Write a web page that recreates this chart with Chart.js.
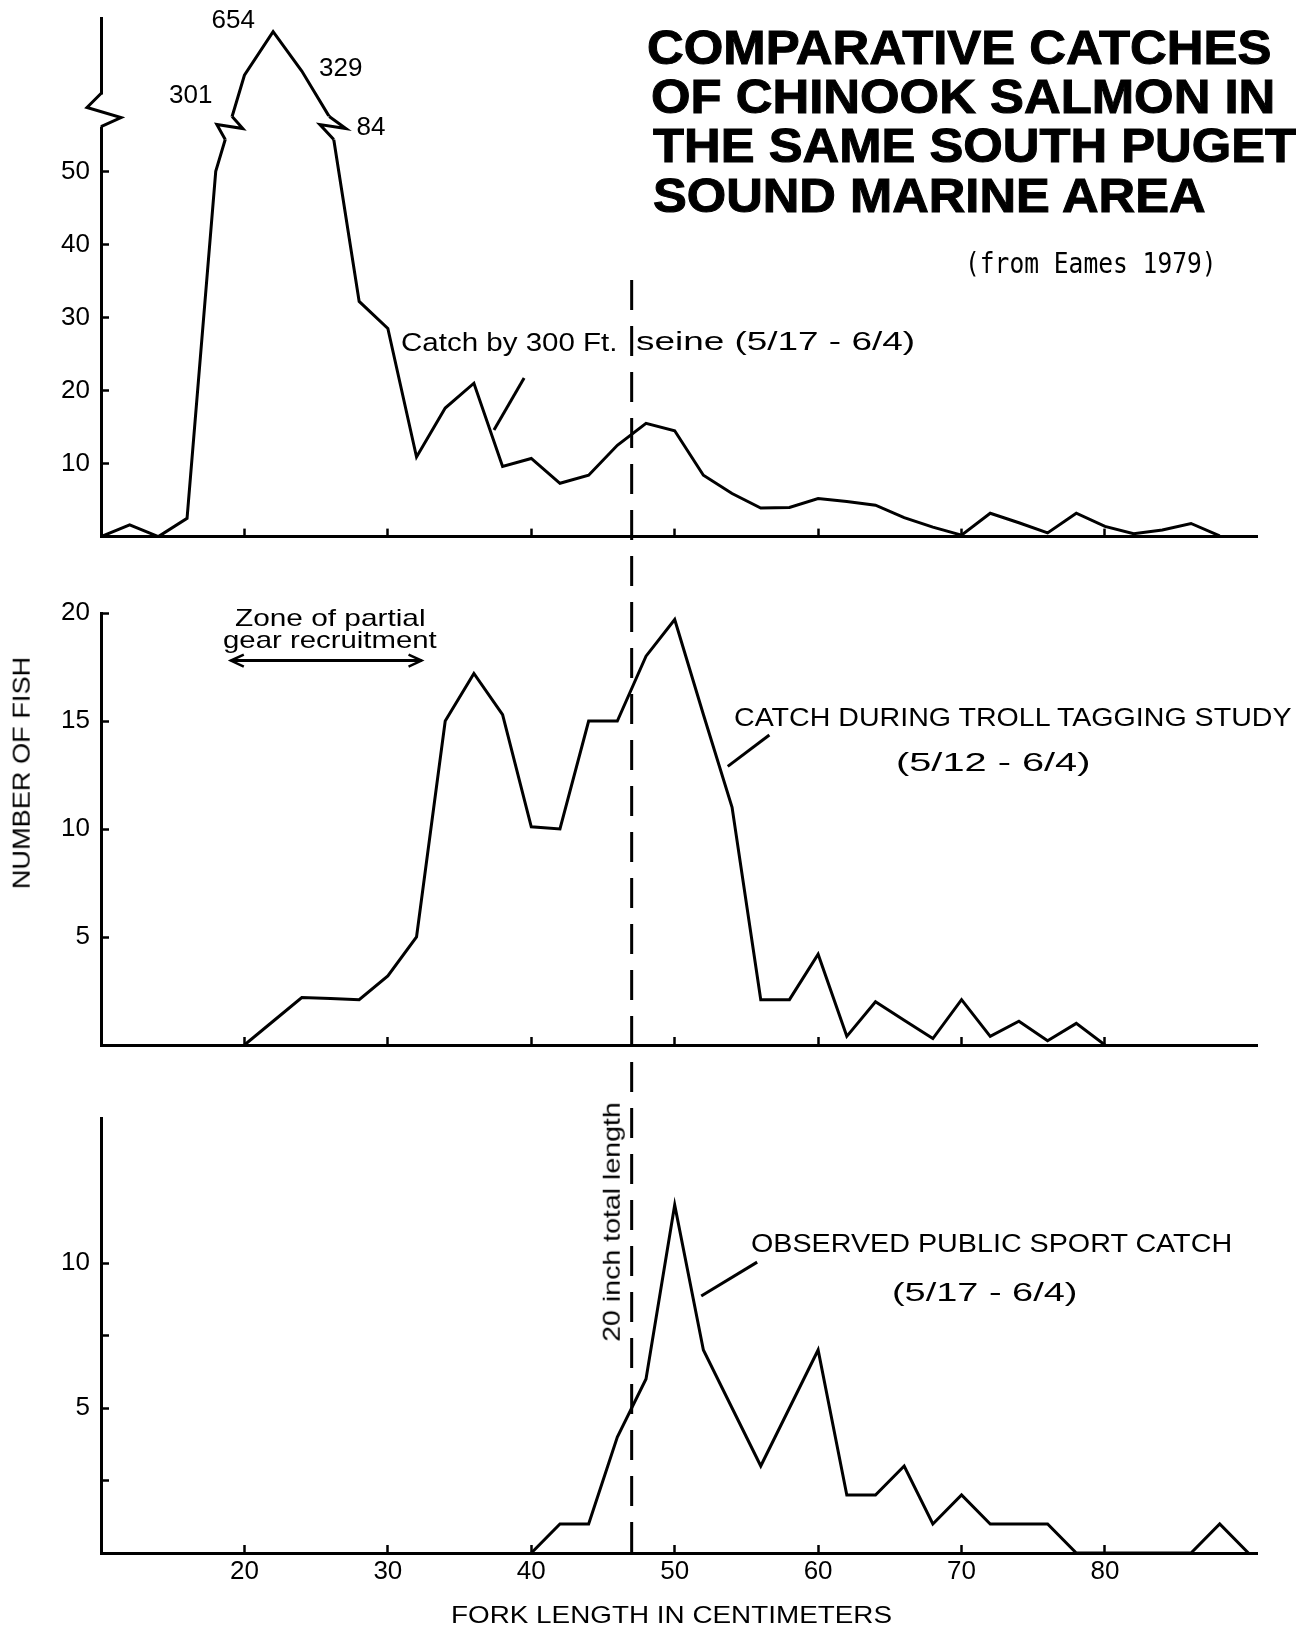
<!DOCTYPE html>
<html>
<head>
<meta charset="utf-8">
<script src="https://cdn.jsdelivr.net/npm/chart.js"></script>
<style>
html, body { margin: 0; padding: 0; background: #fff; }
#page { position: relative; width: 1306px; height: 1630px; overflow: hidden; background: #fff; }
canvas { position: absolute; left: 0; top: 0; }
.t { position: absolute; white-space: nowrap; color: #000; line-height: 1; transform-origin: 0 0; }
</style>
</head>
<body>
<div id="page">
  <canvas id="cTop" width="1306" height="1630"></canvas>
  <canvas id="cMid" width="1306" height="1630"></canvas>
  <canvas id="cBot" width="1306" height="1630"></canvas>
</div>
<script>
// ---------------- DATA ----------------
// Catch by 300 ft. beach seine (5/17 - 6/4)
const seineLengths = [10,12,14,16,18,20,22,24,26,28,30,32,34,36,38,40,42,44,46,48,50,52,54,56,58,60,62,64,66,68,70,72,74,76,78,80,82,84,86,88];
const seineCounts  = [0,1.6,0,2.5,50,301,654,329,84,32.2,28.5,10.9,17.6,21,9.6,10.7,7.3,8.4,12.5,15.5,14.5,8.4,5.9,3.9,4.0,5.2,4.8,4.3,2.6,1.3,0.2,3.2,1.9,0.5,3.2,1.4,0.4,0.9,1.8,0.1];

// Catch during troll tagging study (5/12 - 6/4)
const trollLengths = [20,22,24,26,28,30,32,34,36,38,40,42,44,46,48,50,52,54,56,58,60,62,64,66,68,70,72,74,76,78,80];
const trollCounts  = [0,1.1,2.2,2.15,2.1,3.2,5,15,17.2,15.3,10.1,10,15,15,18,19.7,15.3,11,2.1,2.1,4.2,0.4,2,1.15,0.3,2.1,0.4,1.1,0.2,1,0];

// Observed public sport catch (5/17 - 6/4)
const sportLengths = [40,42,44,46,48,50,52,54,56,58,60,62,64,66,68,70,72,74,76,78,80,82,84,86,88,90];
const sportCounts  = [0,1,1,4,6,12,7,5,3,5,7,2,2,3,1,2,1,1,1,0,0,0,0,0,1,0];

// Tick values / labels
const xTickValues     = [20,30,40,50,60,70,80];
const seineYTicks     = [10,20,30,40,50];
const trollYTicks     = [5,10,15,20];
const sportYTicks     = [2.5,5,7.5,10];
const sportYLabels    = [5,10];
const LEGAL_LENGTH_CM = 47;   // 20 inch total length

// ---------------- STYLE / LAYOUT ----------------
const SANS = '"Liberation Sans", Arial, Helvetica, sans-serif';
const MONO = '"DejaVu Sans Mono", "Liberation Mono", monospace';
const X_MIN = 10, X_MAX = 90.6;
const AREA_RIGHT = 1257, AXIS_LEFT = 101;
const BREAK = { at: 56, factor: 0.726 };

Chart.defaults.font.family = SANS;
Chart.defaults.color = '#000';

// Linear scale with a broken (compressed, square-root) upper segment
class BrokenLinearScale extends Chart.LinearScale {
  _toDisplay(v) {
    const o = this.options.breakAxis;
    if (!o || v === null || v === undefined || v <= o.at) return v;
    return o.at + o.factor * (Math.sqrt(v) - Math.sqrt(o.at));
  }
  _fromDisplay(u) {
    const o = this.options.breakAxis;
    if (!o || u <= o.at) return u;
    const s = (u - o.at) / o.factor + Math.sqrt(o.at);
    return s * s;
  }
  getPixelForValue(value, index) { return super.getPixelForValue(this._toDisplay(value), index); }
  getValueForPixel(pixel) { return this._fromDisplay(super.getValueForPixel(pixel)); }
}
BrokenLinearScale.id = 'brokenLinear';
BrokenLinearScale.defaults = Chart.LinearScale.defaults;
Chart.register(BrokenLinearScale);

const tickGrid = { display: true, drawOnChartArea: false, drawTicks: true, tickLength: -8, tickWidth: 2.5, tickColor: '#000' };
const axisBorder = { display: true, color: '#000', width: 3 };

function xScale(showLabels, height) {
  return {
    type: 'linear', min: X_MIN, max: X_MAX, bounds: 'data',
    afterBuildTicks: s => { s.ticks = xTickValues.map(v => ({ value: v })); },
    ticks: { display: showLabels, padding: 11, font: { size: 26 }, color: '#000', maxRotation: 0, autoSkip: false },
    grid: tickGrid, border: axisBorder,
    afterFit: s => { s.height = height; s.paddingLeft = 0; s.paddingRight = 0; s.paddingTop = 0; s.paddingBottom = 0; }
  };
}
function yScale(type, max, tickVals, labelVals, extra) {
  return Object.assign({
    type: type, min: 0, max: max, bounds: 'data',
    afterBuildTicks: s => { s.ticks = tickVals.map(v => ({ value: v })); },
    ticks: { padding: 19, font: { size: 26 }, color: '#000',
             callback: v => (labelVals.indexOf(v) >= 0 ? String(v) : '') },
    grid: tickGrid, border: axisBorder,
    afterFit: s => { s.width = AXIS_LEFT; s.paddingTop = 0; s.paddingBottom = 0; s.paddingLeft = 0; s.paddingRight = 0; }
  }, extra || {});
}
function options(area, xs, ys, pluginOpts) {
  return {
    responsive: false, animation: false, devicePixelRatio: 1, events: [],
    layout: { padding: { left: 0, right: 1306 - AREA_RIGHT, top: area.top, bottom: 1630 - area.bottom - area.xh } },
    plugins: Object.assign({ legend: { display: false }, tooltip: { enabled: false }, title: { display: false } }, pluginOpts || {}),
    elements: { point: { radius: 0, hoverRadius: 0 },
                line: { borderWidth: 3, borderColor: '#000', tension: 0, borderJoinStyle: 'miter', fill: false } },
    scales: { x: xs, y: ys }
  };
}
const toXY = (xs, ys) => xs.map((x, i) => ({ x: x, y: ys[i] }));

// ---------------- PLUGINS ----------------
const leaderPlugin = {
  id: 'leaders',
  afterDraw(chart, args, opts) {
    const ctx = chart.ctx, xs = chart.scales.x, ys = chart.scales.y;
    ctx.save();
    ctx.strokeStyle = '#000'; ctx.lineWidth = 3; ctx.lineCap = 'butt';
    (opts.lines || []).forEach(l => {
      ctx.beginPath();
      ctx.moveTo(xs.getPixelForValue(l[0][0]), ys.getPixelForValue(l[0][1]));
      ctx.lineTo(xs.getPixelForValue(l[1][0]), ys.getPixelForValue(l[1][1]));
      ctx.stroke();
    });
    if (opts.arrow) {
      const a = opts.arrow;
      const x1 = xs.getPixelForValue(a.from), x2 = xs.getPixelForValue(a.to), y = ys.getPixelForValue(a.y);
      ctx.lineWidth = 3;
      ctx.beginPath(); ctx.moveTo(x1, y); ctx.lineTo(x2, y); ctx.stroke();
      ctx.lineWidth = 2.5;
      ctx.beginPath();
      ctx.moveTo(x1 + 13, y - 6); ctx.lineTo(x1, y); ctx.lineTo(x1 + 13, y + 6);
      ctx.moveTo(x2 - 13, y - 6); ctx.lineTo(x2, y); ctx.lineTo(x2 - 13, y + 6);
      ctx.stroke();
    }
    ctx.restore();
  }
};

const breakPlugin = {
  id: 'axisBreak',
  afterDraw(chart) {
    const ctx = chart.ctx, ys = chart.scales.y;
    const yb = ys.getPixelForValue(BREAK.at);
    const pts = chart.getDatasetMeta(0).data.map(p => ({ x: p.x, y: p.y }));
    const crossAt = (y, nearX) => {
      let best = null;
      for (let i = 0; i < pts.length - 1; i++) {
        const a = pts[i], b = pts[i + 1];
        if (a.y === b.y) continue;
        if ((a.y - y) * (b.y - y) <= 0) {
          const x = a.x + (y - a.y) * (b.x - a.x) / (b.y - a.y);
          if (best === null || Math.abs(x - nearX) < Math.abs(best - nearX)) best = x;
        }
      }
      return best;
    };
    const crossings = [];
    for (let i = 0; i < pts.length - 1; i++) {
      const a = pts[i], b = pts[i + 1];
      if ((a.y - yb) * (b.y - yb) < 0) crossings.push(a.x + (yb - a.y) * (b.x - a.x) / (b.y - a.y));
    }
    ctx.save();
    crossings.forEach(cx => {
      const yT = yb - 11, yB = yb + 12;
      const xT = crossAt(yT, cx), xB = crossAt(yB, cx);
      ctx.save();
      ctx.beginPath(); ctx.rect(cx - 30, yT, 60, yB - yT); ctx.clip();
      ctx.strokeStyle = '#fff'; ctx.lineWidth = 9; ctx.lineJoin = 'round';
      ctx.beginPath();
      pts.forEach((p, i) => i ? ctx.lineTo(p.x, p.y) : ctx.moveTo(p.x, p.y));
      ctx.stroke();
      ctx.restore();
      ctx.strokeStyle = '#000'; ctx.lineWidth = 3; ctx.lineJoin = 'miter';
      ctx.beginPath();
      ctx.moveTo(xT, yT); ctx.lineTo(cx + 14, yb + 1); ctx.lineTo(cx - 12, yb - 3); ctx.lineTo(xB, yB);
      ctx.stroke();
    });
    // break on the y axis
    const ax = chart.chartArea.left, c = yb - 17;
    ctx.fillStyle = '#fff'; ctx.fillRect(ax - 5, c - 16, 10, 32);
    ctx.strokeStyle = '#000'; ctx.lineWidth = 3; ctx.lineJoin = 'miter';
    ctx.beginPath();
    ctx.moveTo(ax, c - 17); ctx.lineTo(ax - 14, c - 3); ctx.lineTo(ax + 20, c + 7); ctx.lineTo(ax, c + 16);
    ctx.stroke();
    ctx.restore();
  }
};

const legalPlugin = {
  id: 'legalLine',
  afterDraw(chart, args, opts) {
    const ctx = chart.ctx, x = chart.scales.x.getPixelForValue(LEGAL_LENGTH_CM);
    ctx.save();
    ctx.strokeStyle = '#000'; ctx.lineWidth = 3; ctx.setLineDash([30, 16]);
    ctx.beginPath(); ctx.moveTo(x, opts.top); ctx.lineTo(x, chart.chartArea.bottom); ctx.stroke();
    ctx.restore();
  }
};

// ---------------- CHARTS ----------------
new Chart(document.getElementById('cTop'), {
  type: 'line',
  data: { datasets: [{ data: toXY(seineLengths, seineCounts) }] },
  options: options({ top: 18, bottom: 536.6, xh: 0 }, xScale(false, 0),
    yScale('brokenLinear', 71, seineYTicks, seineYTicks, { breakAxis: BREAK }),
    { leaders: { lines: [[[39.5, 21.7], [37.4, 14.6]]] } }),
  plugins: [breakPlugin, leaderPlugin]
});

new Chart(document.getElementById('cMid'), {
  type: 'line',
  data: { datasets: [{ data: toXY(trollLengths, trollCounts) }] },
  options: options({ top: 613, bottom: 1045, xh: 0 }, xScale(false, 0),
    yScale('linear', 20, trollYTicks, trollYTicks),
    { leaders: { lines: [[[56.6, 14.35], [53.7, 12.9]]], arrow: { from: 19.05, to: 32.35, y: 17.8 } } }),
  plugins: [leaderPlugin]
});

new Chart(document.getElementById('cBot'), {
  type: 'line',
  data: { datasets: [{ data: toXY(sportLengths, sportCounts) }] },
  options: options({ top: 1118, bottom: 1553, xh: 40 }, xScale(true, 40),
    yScale('linear', 15, sportYTicks, sportYLabels),
    { leaders: { lines: [[[55.75, 10.03], [51.85, 8.86]]] }, legalLine: { top: 280 } }),
  plugins: [leaderPlugin, legalPlugin]
});

// ---------------- TEXT ----------------
const page = document.getElementById('page');
function addText(txt, o) {
  const el = document.createElement('div');
  el.className = 't';
  el.textContent = txt;
  el.style.fontFamily = o.family || SANS;
  el.style.fontSize = o.size + 'px';
  el.style.fontWeight = o.weight || 'normal';
  if (o.stroke) el.style.webkitTextStroke = o.stroke;
  page.appendChild(el);
  const w = el.offsetWidth;
  const sx = o.width ? o.width / w : 1;
  if (o.rotate) {
    el.style.left = (o.cx - w / 2) + 'px';
    el.style.top = (o.cy - o.size / 2) + 'px';
    el.style.transformOrigin = '50% 50%';
    el.style.transform = 'rotate(-90deg) scaleX(' + sx + ')';
  } else {
    const left = (o.left !== undefined) ? o.left : o.cx - (w * sx) / 2;
    el.style.left = left + 'px';
    el.style.top = (o.cy - 0.4885 * o.size) + 'px';
    el.style.transform = 'scaleX(' + sx + ')';
  }
}
const valueAt = len => String(seineCounts[seineLengths.indexOf(len)]);
const T = [
  ['COMPARATIVE CATCHES',  { left: 647, cy: 47,    size: 48, weight: 'bold', width: 624, stroke: '1px #000' }],
  ['OF CHINOOK SALMON IN', { left: 651, cy: 96,    size: 48, weight: 'bold', width: 624, stroke: '1px #000' }],
  ['THE SAME SOUTH PUGET', { left: 653, cy: 145.5, size: 48, weight: 'bold', width: 643, stroke: '1px #000' }],
  ['SOUND MARINE AREA',    { left: 653, cy: 195,   size: 48, weight: 'bold', width: 553, stroke: '1px #000' }],
  ['(from Eames 1979)',    { left: 965, cy: 264, size: 28, family: MONO, width: 252 }],
  [valueAt(22), { cx: 233,   cy: 19,    size: 26 }],
  [valueAt(20), { cx: 190.5, cy: 94,    size: 26 }],
  [valueAt(24), { cx: 340.5, cy: 66.5,  size: 26 }],
  [valueAt(26), { cx: 371,   cy: 126,   size: 26 }],
  ['Catch by 300 Ft.',     { left: 401, cy: 342, size: 25, width: 216 }],
  ['seine (5/17 - 6/4)',   { left: 636, cy: 341, size: 25, width: 279 }],
  ['Zone of partial',      { cx: 330, cy: 618, size: 24, width: 190 }],
  ['gear recruitment',     { cx: 330, cy: 640, size: 24, width: 214 }],
  ['CATCH DURING TROLL TAGGING STUDY', { left: 734, cy: 717.5, size: 25, width: 558 }],
  ['(5/12 - 6/4)',         { left: 896, cy: 762, size: 25, width: 194 }],
  ['OBSERVED PUBLIC SPORT CATCH', { left: 751, cy: 1243, size: 25, width: 481 }],
  ['(5/17 - 6/4)',         { left: 892, cy: 1292, size: 25, width: 185 }],
  ['20 inch total length', { cx: 611, cy: 1222, size: 24, width: 239, rotate: true }],
  ['NUMBER OF FISH',       { cx: 21, cy: 773, size: 24, width: 232, rotate: true }],
  ['FORK LENGTH IN CENTIMETERS', { left: 451, cy: 1615, size: 24, width: 441 }]
];
T.forEach(([t, o]) => addText(t, o));
</script>
</body>
</html>
